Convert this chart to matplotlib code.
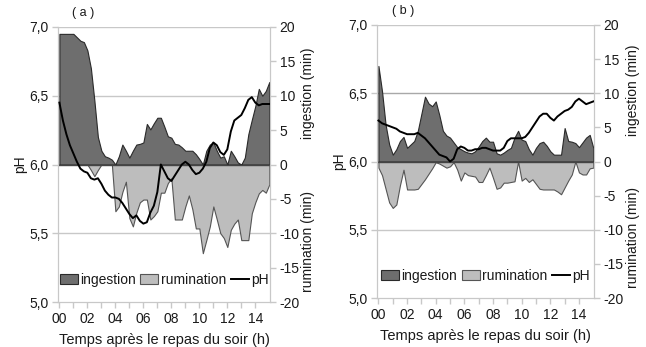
import numpy as np
import matplotlib
matplotlib.use("Agg")
import matplotlib.pyplot as plt
from matplotlib.patches import Patch
from matplotlib.lines import Line2D
from matplotlib.ticker import FuncFormatter

plt.rcParams['font.family'] = ['Liberation Sans', 'DejaVu Sans']
plt.rcParams['axes.unicode_minus'] = False

# time after evening meal (h), 15-min steps
hours = np.arange(0, 15.01, 0.25)

# ---- panel (a) ----
ingestion_a = [19, 19, 19, 19, 19, 18.5, 18, 17.8, 16.6, 14, 9.3, 4, 2, 1.2, 1.0, 0.7,
               0, 1.2, 2.9, 2.0, 1.0, 2.0, 2.9, 3.0, 3.2, 5.9, 5.1, 6.0, 6.8, 6.8, 5.5, 4.1,
               3.9, 3.0, 2.9, 2.5, 2.0, 2.0, 2.0, 1.5, 0.8, 0, 2.0, 2.9, 3.2, 2.0, 1.0, 1.2,
               0, 2.0, 1.2, 0.3, 0, 1.0, 4.4, 6.5, 8.5, 11, 10, 10.7, 12]
rumination_a = [0, 0, 0, 0, 0, 0, 0, 0, 0, -0.8, -1.7, -0.8, 0, 0, 0, 0,
                -6.8, -6.1, -4, -2.5, -7.8, -9, -7, -5.5, -5.1, -5.1, -8, -7.5, -6.8, -4.1, -4.1, -2.7,
                -2, -8, -8, -8, -6.1, -4.5, -6.5, -9.3, -9.3, -12.9, -11, -9.0, -6.1, -8, -10, -10.7,
                -12, -9.5, -8.6, -8, -11, -11, -11, -7.1, -5.5, -4.2, -3.7, -4.1, -2.9]
ph_a = [6.45, 6.32, 6.22, 6.14, 6.08, 6.02, 5.97, 5.95, 5.94, 5.90, 5.89, 5.90, 5.86, 5.81, 5.78, 5.76,
        5.76, 5.75, 5.72, 5.68, 5.64, 5.61, 5.63, 5.59, 5.57, 5.58, 5.65, 5.70, 5.80, 6.00, 5.95, 5.90,
        5.88, 5.92, 5.96, 6.00, 6.02, 6.00, 5.96, 5.93, 5.94, 5.97, 6.02, 6.12, 6.16, 6.14, 6.09, 6.07,
        6.11, 6.24, 6.32, 6.34, 6.36, 6.41, 6.47, 6.49, 6.45, 6.43, 6.44, 6.44, 6.44]

# ---- panel (b) ----
ingestion_b = [14, 10.3, 5.4, 2.5, 1.0, 1.8, 3.0, 3.6, 2.0, 2.5, 3.0, 4.5, 7.0, 9.5, 8.5, 8.1,
               8.8, 6.8, 4.5, 3.8, 3.5, 2.8, 2.1, 1.8, 1.5, 1.3, 1.2, 1.5, 2.2, 3.0, 3.5, 2.9,
               2.9, 1.2, 1.0, 1.3, 1.7, 2.0, 3.5, 4.5, 3.2, 3.0, 1.8, 1.0, 2.0, 2.7, 2.9, 2.3,
               1.5, 1.0, 1.0, 1.0, 4.9, 3.0, 2.9, 2.7, 2.1, 2.8, 3.5, 3.9, 2.0]
rumination_b = [-0.9, -2.0, -4.0, -6.0, -6.8, -6.3, -3.5, -1.2, -4.1, -4.1, -4.1, -4.0, -3.3, -2.6, -1.8, -1.0,
                -0.1, -0.3, -0.6, -0.9, -0.7, -0.1, -1.2, -2.8, -1.6, -2.0, -2.1, -2.2, -3.0, -3.0, -2.0, -0.9,
                -2.4, -4.0, -3.8, -3.1, -3.1, -3.0, -2.9, 0, -2.8, -2.4, -3.0, -2.6, -3.3, -4.0, -4.1, -4.1,
                -4.1, -4.1, -4.4, -4.8, -3.8, -2.8, -1.9, 0, -1.6, -1.9, -1.9, -1.0, -0.9]
ph_b = [6.30, 6.28, 6.27, 6.26, 6.25, 6.24, 6.22, 6.21, 6.20, 6.20, 6.20, 6.21, 6.19, 6.17, 6.14, 6.11,
        6.08, 6.05, 6.04, 6.03, 6.00, 6.02, 6.09, 6.11, 6.10, 6.08, 6.08, 6.09, 6.09, 6.10, 6.10, 6.09,
        6.08, 6.08, 6.08, 6.10, 6.15, 6.17, 6.17, 6.17, 6.17, 6.18, 6.21, 6.25, 6.29, 6.33, 6.35, 6.35,
        6.32, 6.30, 6.33, 6.35, 6.37, 6.38, 6.40, 6.44, 6.46, 6.44, 6.42, 6.43, 6.44]

ph_ticks = [5.0, 5.5, 6.0, 6.5, 7.0]
min_ticks = [-20, -15, -10, -5, 0, 5, 10, 15, 20]
hour_labels = ['00', '02', '04', '06', '08', '10', '12', '14']

DARK = '#6e6e6e'
LIGHT = '#bdbdbd'
SPINE = '#c8c8c8'
TXT = '#1a1a1a'
FS = 10

fig = plt.figure(figsize=(6.46, 3.47), dpi=100)


def panel(rect, ingestion, rumination, ph, tag, grid_col):
    ax = fig.add_axes(rect)
    ax2 = ax.twinx()
    ax.set_zorder(ax2.get_zorder() + 1)
    ax.patch.set_visible(False)

    ax2.fill_between(hours, 0, rumination, facecolor=LIGHT, edgecolor='#555555', lw=0.8, zorder=2)
    ax2.fill_between(hours, 0, ingestion, facecolor=DARK, edgecolor='#2a2a2a', lw=0.8, zorder=3)
    ax2.axhline(0, color='#444444', lw=1.0, zorder=4)
    for v in (10, -10, 20):
        ax2.axhline(v, color=grid_col if v == 10 else SPINE, lw=1.0, zorder=1)
    ax2.set_ylim(-20, 20)
    ax2.set_yticks(min_ticks)
    ax2.yaxis.set_major_formatter(FuncFormatter(lambda v, p: '%d' % v))

    ax.plot(hours, ph, color='black', lw=1.4, zorder=5)
    ax.set_ylim(5.0, 7.0)
    ax.set_yticks(ph_ticks)
    ax.yaxis.set_major_formatter(FuncFormatter(lambda v, p: ('%.1f' % v).replace('.', ',')))
    ax.set_xlim(-0.1, 15.05)
    ax.set_xticks(np.arange(0, 15, 1), minor=True)
    ax.set_xticks(np.arange(0, 15, 2))
    ax.set_xticklabels(hour_labels)

    for a in (ax, ax2):
        for s in a.spines.values():
            s.set_color(SPINE)
        a.spines['top'].set_visible(False)
        a.tick_params(colors=SPINE, labelcolor=TXT, labelsize=FS, length=4, width=1, pad=3)
        a.tick_params(which='minor', colors=SPINE, length=4, width=1)

    ax.set_ylabel('pH', fontsize=FS, labelpad=1, color=TXT)
    ax.set_xlabel('Temps après le repas du soir (h)', fontsize=FS + 0.5, labelpad=5, color=TXT)
    ax.text(0.12, 1.03, tag, transform=ax.transAxes, fontsize=FS - 1, ha='center', va='bottom',
            color=TXT)
    ax2.text(1.18, 0.76, 'ingestion (min)', transform=ax2.transAxes, rotation=90,
             fontsize=FS, ha='center', va='center', color=TXT)
    ax2.text(1.18, 0.22, 'rumination (min)', transform=ax2.transAxes, rotation=90,
             fontsize=FS, ha='center', va='center', color=TXT)

    handles = [Patch(facecolor=DARK, edgecolor='#2a2a2a', lw=0.8),
               Patch(facecolor=LIGHT, edgecolor='#555555', lw=0.8),
               Line2D([], [], color='black', lw=1.4)]
    leg = ax.legend(handles, ['ingestion', 'rumination', 'pH'], loc='lower center',
                    bbox_to_anchor=(0.5, 0.025), ncol=3, frameon=False, fontsize=FS,
                    handlelength=1.3, handleheight=0.8, handletextpad=0.15, columnspacing=0.35,
                    borderaxespad=0.2)
    for t in leg.get_texts():
        t.set_color(TXT)
    return ax


panel([58 / 646, 45 / 347, 212 / 646, 275 / 347], ingestion_a, rumination_a, ph_a, '( a )', SPINE)
panel([377 / 646, 49 / 347, 217 / 646, 273 / 347], ingestion_b, rumination_b, ph_b, '( b )', '#a8a8a8')

fig.savefig('out.png', dpi=100)
